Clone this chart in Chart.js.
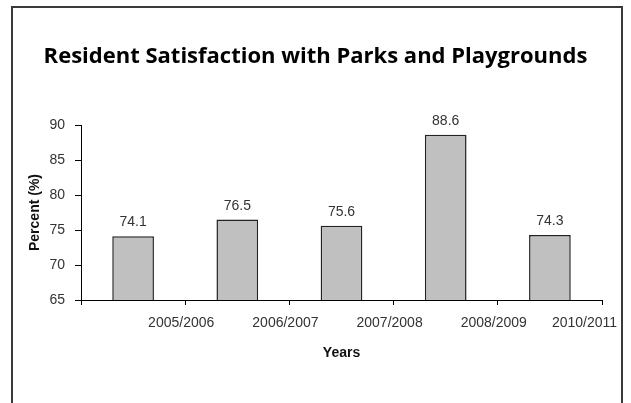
<!DOCTYPE html>
<html>
<head>
<meta charset="utf-8">
<script src="https://cdn.jsdelivr.net/npm/chart.js@4/dist/chart.umd.min.js"></script>
<style>
  html, body { margin: 0; padding: 0; background: #fff; }
  #wrap { position: relative; width: 631px; height: 403px; overflow: hidden; }
  #frame { position: absolute; left: 11px; top: 6px; width: 608px; height: 420px; border: 2px solid #3a3a3a; pointer-events: none; }
  canvas { position: absolute; left: 0; top: 0; }
</style>
</head>
<body>
<div id="wrap">
  <canvas id="chart" width="631" height="403"></canvas>
  <div id="frame"></div>
</div>
<script>
const yearLabels = ['2005/2006', '2006/2007', '2007/2008', '2008/2009', '2010/2011'];
const satisfaction = [74.1, 76.5, 75.6, 88.6, 74.3];
const yTicks = [65, 70, 75, 80, 85, 90];

const FONT = "'Liberation Sans', Arial, sans-serif";

// draws the value above each bar
const barValues = {
    id: 'barValues',
    afterDatasetsDraw(chart) {
        const ctx = chart.ctx;
        const meta = chart.getDatasetMeta(0);
        ctx.save();
        ctx.font = '14px ' + FONT;
        ctx.fillStyle = '#333';
        ctx.textAlign = 'center';
        ctx.textBaseline = 'alphabetic';
        meta.data.forEach((bar, i) => {
            ctx.fillText(satisfaction[i].toFixed(1), bar.x, bar.y - 10);
        });
        ctx.restore();
    }
};

new Chart(document.getElementById('chart'), {
    type: 'bar',
    data: {
        labels: yearLabels,
        datasets: [{
            data: satisfaction,
            backgroundColor: '#c0c0c0',
            borderColor: '#222',
            borderWidth: 1.5,
            categoryPercentage: 1,
            barPercentage: 0.4
        }]
    },
    options: {
        responsive: false,
        animation: false,
        layout: { padding: 0 },
        plugins: {
            legend: { display: false },
            tooltip: { enabled: false },
            title: {
                display: true,
                text: 'Resident Satisfaction with Parks and Playgrounds',
                color: '#000',
                font: { family: "'Open Sans'", size: 22, weight: 'bold' },
                padding: { top: 44, bottom: 54.6 }
            }
        },
        scales: {
            y: {
                min: 65,
                max: 90,
                afterBuildTicks: s => { s.ticks = yTicks.map(v => ({ value: v })); },
                afterFit: s => { s.width = 81; },
                border: { display: true, color: '#000', width: 1 },
                grid: { drawOnChartArea: false, drawTicks: true, tickLength: 6, color: '#000' },
                ticks: { color: '#333', padding: 10, font: { family: FONT, size: 14 } },
                title: {
                    display: true,
                    text: 'Percent (%)',
                    color: '#111',
                    font: { family: FONT, size: 14, weight: 'bold' },
                    padding: { top: 26.6, bottom: 0 }
                }
            },
            // empty right-hand box, keeps the plot clear of the frame
            yRight: {
                axis: 'y',
                position: 'right',
                min: 65,
                max: 90,
                afterFit: s => { s.width = 29; },
                border: { display: false },
                grid: { display: false },
                ticks: { display: false }
            },
            x: {
                offset: true,
                afterFit: s => { s.height = 6; },
                border: { display: true, color: '#000', width: 1 },
                grid: { offset: true, drawOnChartArea: false, drawTicks: true, tickLength: 5, color: '#000' },
                ticks: { display: false }
            },
            x2: {
                type: 'linear',
                position: 'bottom',
                offset: false,
                min: 0,
                max: 5,
                afterBuildTicks: s => {
                    // labels sit under the category boundaries, the last one pulled inside the frame
                    s.ticks = yearLabels.map((_, i) => ({ value: i + 1 - (i === yearLabels.length - 1 ? 0.13 : 0) }));
                },
                afterFit: s => { s.height = 97; },
                border: { display: false },
                grid: { display: false, offset: false, drawTicks: false },
                ticks: {
                    autoSkip: false,
                    maxRotation: 0,
                    labelOffset: -4,
                    padding: 9,
                    color: '#333',
                    font: { family: FONT, size: 14 },
                    callback: (v, i) => yearLabels[i]
                },
                title: {
                    display: true,
                    text: 'Years',
                    color: '#111',
                    font: { family: FONT, size: 14, weight: 'bold' },
                    padding: { top: 0, bottom: 41.6 }
                }
            }
        }
    },
    plugins: [barValues]
});
</script>
</body>
</html>
